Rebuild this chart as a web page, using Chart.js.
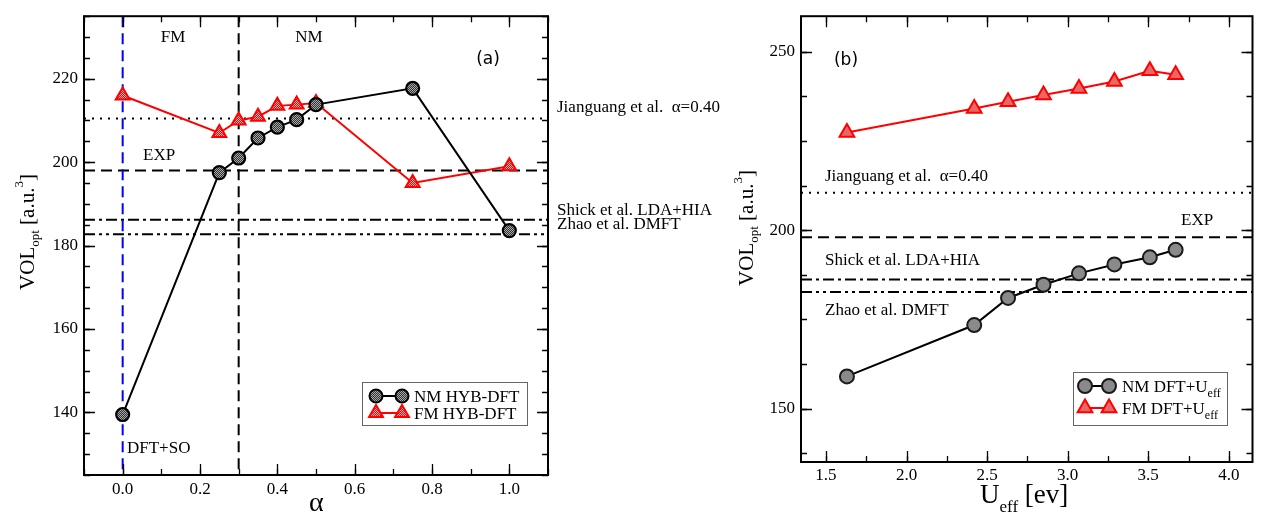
<!DOCTYPE html>
<html>
<head>
<meta charset="utf-8">
<script src="https://cdn.jsdelivr.net/npm/chart.js@4.4.0/dist/chart.umd.min.js"></script>
<style>
  html, body { margin: 0; padding: 0; background: #fff; }
  #wrap { position: relative; width: 1263px; height: 517px; overflow: hidden; }
  #panelA { position: absolute; left: 0; top: 0; }
  #panelB { position: absolute; left: 700px; top: 0; }
</style>
</head>
<body>
<div id="wrap">
  <canvas id="panelA" width="760" height="517"></canvas>
  <canvas id="panelB" width="563" height="517"></canvas>
</div>
<script>
// (a) hybrid functional: volume vs mixing parameter alpha
const alphaNM = [0, 0.25, 0.30, 0.35, 0.40, 0.45, 0.50, 0.75, 1.0];
const volNM   = [139.5, 197.5, 201.0, 205.8, 208.4, 210.2, 213.8, 217.7, 183.6];
const alphaFM = [0, 0.25, 0.30, 0.35, 0.40, 0.45, 0.50, 0.75, 1.0];
const volFM   = [216.0, 207.0, 210.0, 210.9, 213.5, 213.8, 214.2, 195.0, 199.0];

// (b) DFT+U: volume vs U_eff
const uEff    = [1.63, 2.42, 2.63, 2.85, 3.07, 3.29, 3.51, 3.67];
const volNMu  = [159.0, 173.4, 181.0, 184.7, 187.9, 190.4, 192.4, 194.5];
const volFMu  = [227.4, 234.1, 236.0, 237.9, 239.7, 241.7, 244.7, 243.6];

// reference volumes (horizontal lines)
const volJianguang = 210.5;
const volExp       = 198.0;
const volShick     = 186.2;
const volZhao      = 182.7;
// vertical markers in (a)
const alphaDFTSO = 0.0;
const alphaSplit = 0.3;

// tick labels
const ticksAlpha = [0.0, 0.2, 0.4, 0.6, 0.8, 1.0];
const ticksVolA  = [140, 160, 180, 200, 220];
const ticksU     = [1.5, 2.0, 2.5, 3.0, 3.5, 4.0];
const ticksVolB  = [150, 200, 250];

const SERIF = 'Liberation Serif';
const SANS = 'DejaVu Sans';
Chart.defaults.font.family = SERIF;
Chart.defaults.color = '#000';

function checker(c1, c2) {
  const p = document.createElement('canvas');
  p.width = 2; p.height = 2;
  const g = p.getContext('2d');
  g.fillStyle = c1; g.fillRect(0, 0, 2, 2);
  g.fillStyle = c2; g.fillRect(0, 0, 1, 1); g.fillRect(1, 1, 1, 1);
  return g.createPattern(p, 'repeat');
}

const pts = (xs, ys) => xs.map((x, i) => ({ x: x, y: ys[i] }));

// text with sub/superscripts: parts = [[text, size, dy], ...]
function richText(ctx, parts, x, y, align) {
  let w = 0;
  parts.forEach(p => { ctx.font = p[1] + 'px "' + SERIF + '"'; w += ctx.measureText(p[0]).width; });
  let cx = align === 'center' ? x - w / 2 : x;
  ctx.textAlign = 'left';
  ctx.textBaseline = 'alphabetic';
  parts.forEach(p => {
    ctx.font = p[1] + 'px "' + SERIF + '"';
    ctx.fillText(p[0], cx, y + (p[2] || 0));
    cx += ctx.measureText(p[0]).width;
  });
}

function marker(ctx, style, x, y, r, fill, stroke, bw) {
  ctx.save();
  ctx.fillStyle = fill; ctx.strokeStyle = stroke; ctx.lineWidth = bw;
  ctx.setLineDash([]);
  ctx.beginPath();
  if (style === 'circle') {
    ctx.arc(x, y, r, 0, Math.PI * 2);
  } else {
    for (let k = 0; k < 3; k++) {
      const a = -Math.PI / 2 + k * 2 * Math.PI / 3;
      const px = x + Math.cos(a) * r, py = y + Math.sin(a) * r;
      k === 0 ? ctx.moveTo(px, py) : ctx.lineTo(px, py);
    }
    ctx.closePath();
  }
  ctx.fill(); ctx.stroke();
  ctx.restore();
}

const dashes = {
  dotted: [2, 6],
  dashed: [11, 6],
  dashdot: [11, 4, 3, 4],
  dashdotdot: [11, 4, 3, 4, 3, 4]
};

// draws frame, inward ticks on four sides, reference lines, labels and legend
function panelPlugin(cfg) {
  return {
    id: 'panel',
    beforeDatasetsDraw(chart) {
      const { ctx, chartArea: a, scales: { x, y } } = chart;
      ctx.save();
      ctx.lineWidth = 2;
      cfg.hlines.forEach(h => {
        const py = y.getPixelForValue(h.v);
        ctx.strokeStyle = '#000';
        ctx.setLineDash(dashes[h.dash]);
        ctx.beginPath(); ctx.moveTo(a.left, py); ctx.lineTo(a.right, py); ctx.stroke();
      });
      (cfg.vlines || []).forEach(h => {
        const px = x.getPixelForValue(h.v);
        ctx.strokeStyle = h.color;
        ctx.setLineDash(dashes[h.dash]);
        ctx.beginPath(); ctx.moveTo(px, a.top); ctx.lineTo(px, a.bottom); ctx.stroke();
      });
      ctx.restore();
    },
    afterDraw(chart) {
      const { ctx, chartArea: a, scales: { x, y } } = chart;
      ctx.save();
      ctx.setLineDash([]);
      ctx.strokeStyle = '#000';
      ctx.lineWidth = 1.3;
      const tick = (len, vals, sc, horiz) => {
        vals.forEach(v => {
          const p = Math.round(sc.getPixelForValue(v)) + 0.5;
          ctx.beginPath();
          if (horiz) {
            ctx.moveTo(p, a.bottom); ctx.lineTo(p, a.bottom - len);
            ctx.moveTo(p, a.top); ctx.lineTo(p, a.top + len);
          } else {
            ctx.moveTo(a.left, p); ctx.lineTo(a.left + len, p);
            ctx.moveTo(a.right, p); ctx.lineTo(a.right - len, p);
          }
          ctx.stroke();
        });
      };
      const steps = (min, max, st) => {
        const out = [];
        for (let v = Math.ceil(min / st - 1e-9) * st; v <= max + 1e-9; v += st) out.push(v);
        return out;
      };
      tick(6, steps(x.min, x.max, cfg.minorX), x, true);
      tick(11, steps(x.min, x.max, cfg.majorX), x, true);
      tick(6, steps(y.min, y.max, cfg.minorY), y, false);
      tick(11, steps(y.min, y.max, cfg.majorY), y, false);

      ctx.lineWidth = 2;
      ctx.strokeRect(a.left, a.top, a.right - a.left, a.bottom - a.top);

      ctx.fillStyle = '#000';
      cfg.texts.forEach(t => {
        ctx.font = (t.size || 17) + 'px "' + (t.sans ? SANS : SERIF) + '"';
        ctx.textAlign = t.align || 'left';
        ctx.textBaseline = 'middle';
        ctx.fillText(t.s, t.x, t.y);
      });

      // axis titles
      ctx.save();
      ctx.translate(cfg.yTitle.x, cfg.yTitle.y);
      ctx.rotate(-Math.PI / 2);
      richText(ctx, [['VOL', 21], ['opt', 13, 5], [' [a.u.', 21], ['3', 13, -11], [']', 21]], 0, 0, 'center');
      ctx.restore();
      richText(ctx, cfg.xTitle.parts, cfg.xTitle.x, cfg.xTitle.y, 'left');

      // legend
      const L = cfg.legend;
      ctx.strokeStyle = '#666';
      ctx.lineWidth = 1;
      ctx.strokeRect(L.x0 + 0.5, L.y0 + 0.5, L.x1 - L.x0, L.y1 - L.y0);
      L.rows.forEach(r => {
        ctx.strokeStyle = r.line; ctx.lineWidth = 2;
        ctx.beginPath(); ctx.moveTo(L.m1, r.y); ctx.lineTo(L.m2, r.y); ctx.stroke();
        marker(ctx, r.style, L.m1, r.y, r.r, r.fill, r.stroke, 2);
        marker(ctx, r.style, L.m2, r.y, r.r, r.fill, r.stroke, 2);
        ctx.fillStyle = '#000';
        richText(ctx, r.parts, L.tx, r.y + 6, 'left');
      });
      ctx.restore();
    }
  };
}

function scaleX(min, max, tickVals, padding) {
  return {
    type: 'linear', min: min, max: max,
    grid: { display: false, drawTicks: false }, border: { display: false },
    afterBuildTicks: s => { s.ticks = tickVals.map(v => ({ value: v })); },
    afterFit: s => { s.height = padding.h; },
    ticks: { color: '#000', font: { family: SERIF, size: 17 }, padding: padding.p, maxRotation: 0,
             callback: v => v.toFixed(1) }
  };
}
function scaleY(min, max, tickVals, padding) {
  return {
    type: 'linear', min: min, max: max,
    grid: { display: false, drawTicks: false }, border: { display: false },
    afterBuildTicks: s => { s.ticks = tickVals.map(v => ({ value: v })); },
    afterFit: s => { s.width = padding.w; },
    ticks: { color: '#000', font: { family: SERIF, size: 17 }, padding: 6, callback: v => String(v) }
  };
}

const grayDots = checker('#333333', '#a8a8a8');
const redDots = checker('#ff0000', '#ffb0b0');

const baseOpts = {
  responsive: false, animation: false,
  plugins: { legend: { display: false }, tooltip: { enabled: false } }
};

new Chart(document.getElementById('panelA'), {
  type: 'line',
  data: {
    datasets: [
      { data: pts(alphaNM, volNM), borderColor: '#000', borderWidth: 2, pointStyle: 'circle',
        pointRadius: 6.5, pointBorderWidth: 2.2, pointBackgroundColor: grayDots, pointBorderColor: '#000' },
      { data: pts(alphaFM, volFM), borderColor: '#ff0000', borderWidth: 2, pointStyle: 'triangle',
        pointRadius: 8, pointBorderWidth: 2, pointBackgroundColor: redDots, pointBorderColor: '#ff0000' }
    ]
  },
  options: Object.assign({}, baseOpts, {
    layout: { padding: { left: 0, right: 212, top: 8, bottom: 0 } },
    scales: {
      x: scaleX(-0.1, 1.1, ticksAlpha, { h: 42, p: 4 }),
      y: scaleY(125, 235, ticksVolA, { w: 84 })
    }
  }),
  plugins: [panelPlugin({
    majorX: 0.2, minorX: 0.1, majorY: 20, minorY: 5,
    hlines: [
      { v: volJianguang, dash: 'dotted' }, { v: volExp, dash: 'dashed' },
      { v: volShick, dash: 'dashdot' }, { v: volZhao, dash: 'dashdotdot' }
    ],
    vlines: [{ v: alphaDFTSO, dash: 'dashed', color: '#0000ff' }, { v: alphaSplit, dash: 'dashed', color: '#000' }],
    texts: [
      { s: 'FM', x: 173, y: 38, align: 'center' },
      { s: 'NM', x: 309, y: 38, align: 'center' },
      { s: '(a)', x: 488, y: 60, align: 'center', sans: true },
      { s: 'EXP', x: 143, y: 156 },
      { s: 'DFT+SO', x: 127, y: 449 },
      { s: 'Jianguang et al.  \u03b1=0.40', x: 557, y: 108 },
      { s: 'Shick et al. LDA+HIA', x: 557, y: 211 },
      { s: 'Zhao et al. DMFT', x: 557, y: 225 }
    ],
    yTitle: { x: 34, y: 232 },
    xTitle: { x: 309, y: 511, parts: [['\u03b1', 28]] },
    legend: {
      x0: 362, y0: 382, x1: 527, y1: 425, m1: 376, m2: 402, tx: 414,
      rows: [
        { y: 396, style: 'circle', r: 6.5, fill: grayDots, stroke: '#000', line: '#000', parts: [['NM HYB-DFT', 17]] },
        { y: 413, style: 'triangle', r: 8, fill: redDots, stroke: '#ff0000', line: '#ff0000', parts: [['FM HYB-DFT', 17]] }
      ]
    }
  })]
});

new Chart(document.getElementById('panelB'), {
  type: 'line',
  data: {
    datasets: [
      { data: pts(uEff, volNMu), borderColor: '#000', borderWidth: 2, pointStyle: 'circle',
        pointRadius: 7, pointBorderWidth: 2, pointBackgroundColor: '#8a8a8a', pointBorderColor: '#1a1a1a' },
      { data: pts(uEff, volFMu), borderColor: '#ff0000', borderWidth: 2, pointStyle: 'triangle',
        pointRadius: 8.5, pointBorderWidth: 2, pointBackgroundColor: '#e86868', pointBorderColor: '#ff0000' }
    ]
  },
  options: Object.assign({}, baseOpts, {
    layout: { padding: { left: 0, right: 10, top: 8, bottom: 0 } },
    scales: {
      x: scaleX(1.345, 4.147, ticksU, { h: 55, p: 3 }),
      y: scaleY(135, 260, ticksVolB, { w: 101 })
    }
  }),
  plugins: [panelPlugin({
    majorX: 0.5, minorX: 0.25, majorY: 50, minorY: 12.5,
    hlines: [
      { v: volJianguang, dash: 'dotted' }, { v: volExp, dash: 'dashed' },
      { v: volShick, dash: 'dashdot' }, { v: volZhao, dash: 'dashdotdot' }
    ],
    texts: [
      { s: '(b)', x: 146, y: 61, align: 'center', sans: true },
      { s: 'Jianguang et al.  \u03b1=0.40', x: 125, y: 177 },
      { s: 'EXP', x: 481, y: 221 },
      { s: 'Shick et al. LDA+HIA', x: 125, y: 261 },
      { s: 'Zhao et al. DMFT', x: 125, y: 311 }
    ],
    yTitle: { x: 53, y: 228 },
    xTitle: { x: 280, y: 503, parts: [['U', 27], ['eff', 17, 9], [' [ev]', 27]] },
    legend: {
      x0: 373, y0: 372, x1: 527, y1: 425, m1: 385, m2: 409, tx: 422,
      rows: [
        { y: 386, style: 'circle', r: 7, fill: '#8a8a8a', stroke: '#1a1a1a', line: '#000', parts: [['NM DFT+U', 17], ['eff', 12, 5]] },
        { y: 408, style: 'triangle', r: 8.5, fill: '#e86868', stroke: '#ff0000', line: '#ff0000', parts: [['FM DFT+U', 17], ['eff', 12, 5]] }
      ]
    }
  })]
});
</script>
</body>
</html>
